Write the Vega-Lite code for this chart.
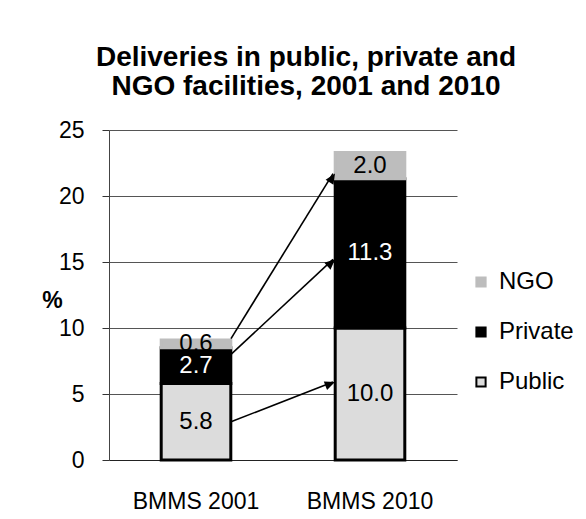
{
  "$schema": "https://vega.github.io/schema/vega-lite/v6.json",
  "width": 348,
  "height": 330,
  "autosize": "none",
  "padding": {"left": 109, "top": 130, "right": 129, "bottom": 59},
  "background": "white",
  "config": {
    "font": "Liberation Sans",
    "view": {"stroke": null},
    "legend": {
      "orient": "none",
      "legendX": 360,
      "legendY": 140,
      "symbolType": "square",
      "symbolSize": 85,
      "symbolStrokeWidth": 2,
      "labelFontSize": 24,
      "labelColor": "black",
      "labelFont": "Liberation Sans",
      "rowPadding": 26,
      "labelOffset": 6,
      "padding": 0,
      "title": null
    }
  },
  "title": {
    "text": ["Deliveries in public, private and", "NGO facilities, 2001 and 2010"],
    "fontSize": 28,
    "fontWeight": "bold",
    "color": "black",
    "font": "Liberation Sans",
    "anchor": "middle",
    "frame": "group",
    "dx": 23,
    "offset": 18,
    "lineHeight": 29
  },
  "datasets": {
    "bars": [
      {"survey": "BMMS 2001", "series": "Public", "value": 5.8},
      {"survey": "BMMS 2001", "series": "Private", "value": 2.7},
      {"survey": "BMMS 2001", "series": "NGO", "value": 0.6},
      {"survey": "BMMS 2010", "series": "Public", "value": 10.0},
      {"survey": "BMMS 2010", "series": "Private", "value": 11.3},
      {"survey": "BMMS 2010", "series": "NGO", "value": 2.0}
    ],
    "arrows": [
      {"series": "NGO", "from": "BMMS 2001", "to": "BMMS 2010", "y0": 9.2, "y1": 21.7},
      {"series": "Private", "from": "BMMS 2001", "to": "BMMS 2010", "y0": 8.0, "y1": 15.2},
      {"series": "Public", "from": "BMMS 2001", "to": "BMMS 2010", "y0": 2.9, "y1": 5.9}
    ]
  },
  "layer": [
    {
      "data": {"name": "bars"},
      "transform": [
        {"stack": "value", "groupby": ["survey"], "sort": [{"field": "series", "order": "descending"}], "as": ["v0", "v1"]}
      ],
      "mark": {"type": "bar", "strokeWidth": 3, "strokeJoin": "miter"},
      "encoding": {
        "x": {
          "field": "survey", "type": "nominal", "title": null,
          "scale": {"paddingInner": 0.6, "paddingOuter": 0.3},
          "axis": {"labelAngle": 0, "labelFontSize": 23, "labelColor": "black", "ticks": false, "domainColor": "#222", "labelPadding": 30}
        },
        "y": {
          "field": "v0", "type": "quantitative", "title": "%",
          "scale": {"domain": [0, 25], "nice": false},
          "axis": {
            "values": [0, 5, 10, 15, 20, 25],
            "labelFontSize": 23, "labelColor": "black", "labelPadding": 18,
            "tickSize": 7, "tickColor": "#333", "domainColor": "#444",
            "gridColor": "#555", "gridWidth": 1,
            "titleAngle": 0, "titleFontSize": 23, "titleFontWeight": "bold", "titleColor": "black",
            "titleX": -57, "titleY": 170, "titleAlign": "center", "titleBaseline": "middle"
          }
        },
        "y2": {"field": "v1"},
        "fill": {
          "field": "series", "type": "nominal",
          "scale": {"domain": ["NGO", "Private", "Public"], "range": ["#bdbdbd", "#000000", "#dcdcdc"]}
        },
        "stroke": {
          "field": "series", "type": "nominal",
          "scale": {"domain": ["NGO", "Private", "Public"], "range": ["#bdbdbd", "#000000", "#000000"]}
        }
      }
    },
    {
      "data": {"name": "bars"},
      "transform": [
        {"stack": "value", "groupby": ["survey"], "sort": [{"field": "series", "order": "descending"}], "as": ["v0", "v1"]},
        {"calculate": "(datum.v0 + datum.v1) / 2", "as": "mid"}
      ],
      "mark": {"type": "text", "fontSize": 24, "font": "Liberation Sans", "baseline": "middle", "align": "center"},
      "encoding": {
        "x": {"field": "survey", "type": "nominal", "title": null},
        "y": {"field": "mid", "type": "quantitative", "title": "%"},
        "text": {"field": "value", "type": "quantitative", "format": ".1f"},
        "color": {"condition": {"test": "datum.series === 'Private'", "value": "white"}, "value": "black"}
      }
    },
    {
      "data": {"name": "arrows"},
      "mark": {"type": "rule", "color": "black", "strokeWidth": 1.6, "xOffset": 35, "x2Offset": -37},
      "encoding": {
        "x": {"field": "from", "type": "nominal", "title": null},
        "x2": {"field": "to"},
        "y": {"field": "y0", "type": "quantitative", "title": "%"},
        "y2": {"field": "y1"}
      }
    },
    {
      "data": {"name": "arrows"},
      "mark": {"type": "point", "filled": true, "color": "black", "opacity": 1, "shape": "M0,0L-1,-0.45L-1,0.45Z", "size": 420, "xOffset": -35},
      "encoding": {
        "x": {"field": "to", "type": "nominal", "title": null},
        "y": {"field": "y1", "type": "quantitative", "title": "%"},
        "angle": {
          "field": "series", "type": "nominal", "legend": null,
          "scale": {"type": "ordinal", "domain": ["NGO", "Private", "Public"], "range": [302.2, 317.6, 339.2]}
        }
      }
    }
  ]
}
